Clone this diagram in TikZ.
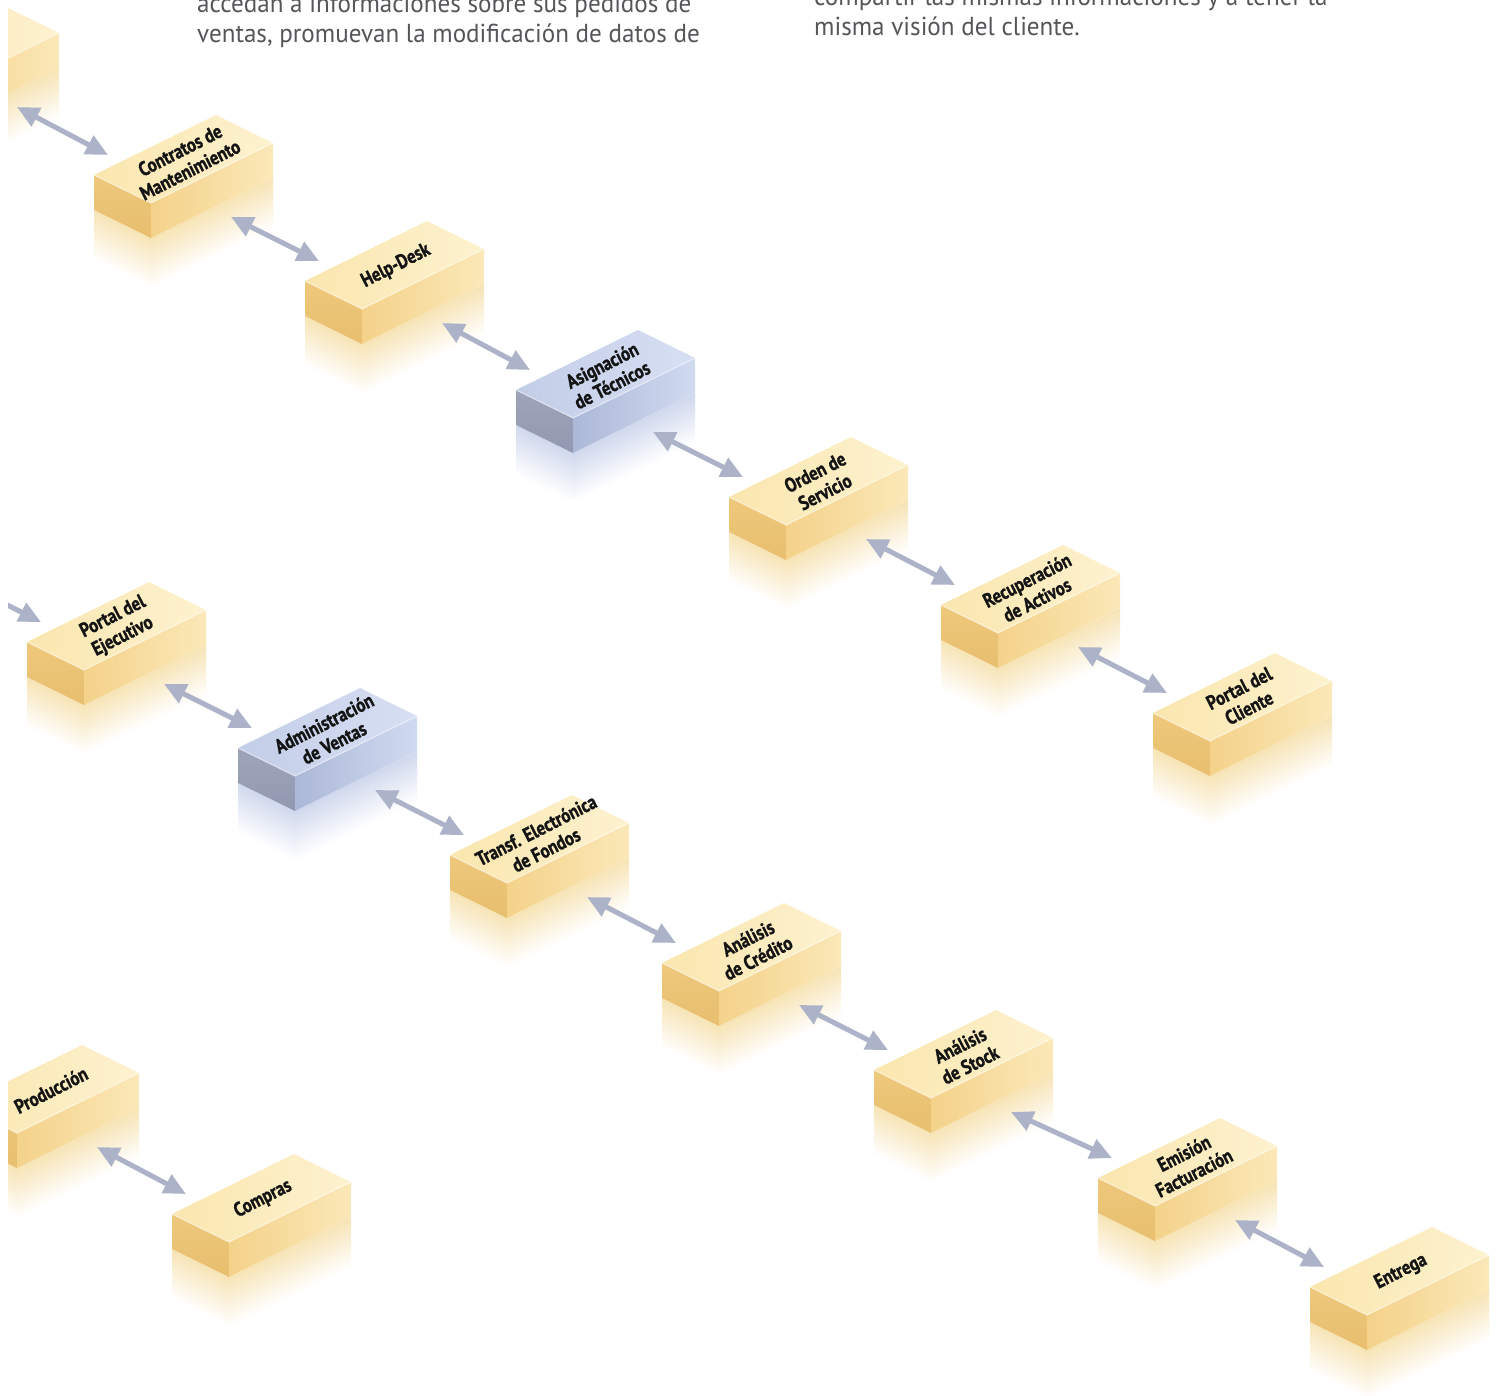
\documentclass[tikz,border=0pt]{standalone}
\usepackage{fontspec}
\setmainfont{PT Sans}
\newfontfamily\lblfont{PT Sans}[FakeStretch=0.84, FakeBold=1.2]
\newfontfamily\parfont{PT Sans}[FakeStretch=0.965]
\usetikzlibrary{arrows.meta}

\definecolor{yTopL}{RGB}{250,230,174}
\definecolor{yTopR}{RGB}{253,242,208}
\definecolor{yLeftT}{RGB}{238,200,124}
\definecolor{yLeftB}{RGB}{232,190,110}
\definecolor{yFrontL}{RGB}{244,210,138}
\definecolor{yFrontR}{RGB}{251,232,184}
\definecolor{yRefl}{RGB}{247,228,182}
\definecolor{bTopL}{RGB}{194,205,231}
\definecolor{bTopR}{RGB}{215,223,243}
\definecolor{bLeftT}{RGB}{158,164,186}
\definecolor{bLeftB}{RGB}{146,152,175}
\definecolor{bFrontL}{RGB}{172,184,216}
\definecolor{bFrontR}{RGB}{208,218,240}
\definecolor{bRefl}{RGB}{208,216,237}
\definecolor{arrowgrey}{RGB}{172,178,199}
\definecolor{partext}{RGB}{86,86,90}

\tikzset{
  lbl/.style={font=\lblfont\bfseries\fontsize{20}{22}\selectfont, text=black!92, align=center, inner sep=0pt, rotate=27},
  partxt/.style={font=\parfont\fontsize{26}{30}\selectfont, text=partext, inner sep=0pt, anchor=base west},
  conn/.style={draw=arrowgrey, line width=5pt, {Triangle[length=22pt,width=20pt]}-{Triangle[length=22pt,width=20pt]}}
}

% #1 name, #2 x, #3 y (top-left vertex, image pixels), #4 colour prefix, #5 label
\newcommand\isoblock[5]{%
  \coordinate (#1) at (#2,#3);
  \coordinate (#1-out) at (#2+137,#3+42);
  \coordinate (#1-in) at (#2+14,#3-20);
  \begin{scope}[transform canvas={shift={(#2,#3+35)}, yslant=-0.49}]
    \shade[top color=#4Refl, bottom color=white] (0,0) rectangle (57,50);
  \end{scope}
  \begin{scope}[transform canvas={shift={(#2+57,#3+63)}, yslant=0.49}]
    \shade[top color=#4Refl, bottom color=white] (0,0) rectangle (122,50);
  \end{scope}
  \shade[top color=#4LeftT, bottom color=#4LeftB]
    (#2,#3) -- (#2+57,#3+28) -- (#2+57,#3+63) -- (#2,#3+35) -- cycle;
  \shade[left color=#4FrontL, right color=#4FrontR]
    (#2+57,#3+28) -- (#2+179,#3-32) -- (#2+179,#3+3) -- (#2+57,#3+63) -- cycle;
  \shade[left color=#4TopL, right color=#4TopR]
    (#2,#3) -- (#2+57,#3+28) -- (#2+179,#3-32) -- (#2+122,#3-60) -- cycle;
  \draw[white, opacity=0.45, line width=1.2pt, line join=round]
    (#2,#3) -- (#2+57,#3+28) -- (#2+179,#3-32);
  \node[lbl] (#1-t) at (#2+91,#3-15) {#5};
}

\begin{document}
\begin{tikzpicture}[x=1pt, y=-1pt]
\useasboundingbox (0,0) rectangle (1502,1395);
\fill[white] (0,0) rectangle (1502,1395);
\begin{scope}
\clip (8,0) rectangle (1502,1395);

% introductory text (cut by the top edge)
\node[partxt] (p1) at (197,12) {accedan a informaciones sobre sus pedidos de};
\node[partxt] (p2) at (197,42) {ventas, promuevan la modificación de datos de};
\node[partxt] (p3) at (814,5) {compartir las mismas informaciones y a tener la};
\node[partxt] (p4) at (814,35) {misma visión del cliente.};

% chain 1
\isoblock{top0}{-120}{65}{y}{}
\isoblock{ct}{94}{175}{y}{Contratos de\\Mantenimiento}
\isoblock{hd}{305}{281}{y}{Help-Desk}
\isoblock{as}{516}{390}{b}{Asignación\\de Técnicos}
\isoblock{os}{729}{497}{y}{Orden de\\Servicio}
\isoblock{ra}{941}{605}{y}{Recuperación\\de Activos}
\isoblock{pc}{1153}{713}{y}{Portal del\\Cliente}

% chain 2
\coordinate (off-out) at (-48,577);
\isoblock{pe}{27}{642}{y}{Portal del\\Ejecutivo}
\isoblock{av}{238}{748}{b}{Administración\\de Ventas}
\isoblock{tf}{450}{855}{y}{Transf. Electrónica\\de Fondos}
\isoblock{ac}{662}{963}{y}{Análisis\\de Crédito}
\isoblock{ast}{874}{1070}{y}{Análisis\\de Stock}
\isoblock{ef}{1098}{1178}{y}{Emisión\\Facturación}
\isoblock{en}{1310}{1287}{y}{Entrega}

% chain 3
\isoblock{pr}{-40}{1105}{y}{Producción}
\isoblock{co}{172}{1214}{y}{Compras}

% connectors
\draw[conn] (top0-out) -- (ct-in);
\draw[conn] (ct-out) -- (hd-in);
\draw[conn] (hd-out) -- (as-in);
\draw[conn] (as-out) -- (os-in);
\draw[conn] (os-out) -- (ra-in);
\draw[conn] (ra-out) -- (pc-in);
\draw[conn] (off-out) -- (pe-in);
\draw[conn] (pe-out) -- (av-in);
\draw[conn] (av-out) -- (tf-in);
\draw[conn] (tf-out) -- (ac-in);
\draw[conn] (ac-out) -- (ast-in);
\draw[conn] (ast-out) -- (ef-in);
\draw[conn] (ef-out) -- (en-in);
\draw[conn] (pr-out) -- (co-in);
\end{scope}
\end{tikzpicture}
\end{document}
